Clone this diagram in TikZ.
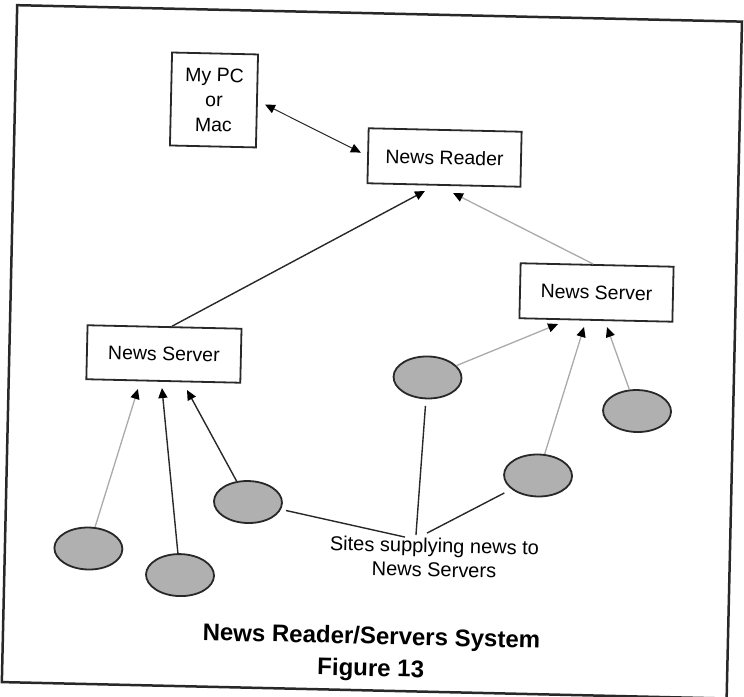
\documentclass[tikz,border=0pt]{standalone}
\usepackage{fontspec}
\setmainfont{Liberation Sans}
\usetikzlibrary{arrows.meta,shapes.geometric}
\definecolor{ink}{RGB}{40,40,40}
\definecolor{lightline}{RGB}{170,170,170}
\definecolor{ellfill}{RGB}{176,176,176}
\tikzset{
  box/.style={draw=ink,line width=1.8pt,rectangle,inner sep=0pt,align=center,
    font=\fontsize{19.5}{25}\selectfont},
  site/.style={draw=ink,line width=1.8pt,ellipse,fill=ellfill,minimum width=68pt,
    minimum height=42pt,inner sep=0pt},
  tip/.style={-{Triangle[length=10pt,width=9pt,color=black]}},
  darkline/.style={draw=ink,line width=1.4pt},
  grayline/.style={draw=lightline,line width=1.3pt},
  caption/.style={align=center,font=\fontsize{20}{24}\selectfont,inner sep=0pt},
  titletext/.style={align=center,font=\bfseries\fontsize{24}{32}\selectfont,inner sep=0pt}
}
\begin{document}
\begin{tikzpicture}[x=1pt,y=-1pt]
\useasboundingbox (0,0) rectangle (744,696);
\begin{scope}[rotate around={-1.3:(372,348)},transform shape]
  % frame
  \draw[ink,line width=2.5pt] (9.5,13.3) rectangle (734.5,690.4);
  % boxes
  \node[box,minimum width=86pt,minimum height=93pt] (pc) at (208.4,103.6) {My PC\\or\\Mac};
  \node[box,minimum width=153pt,minimum height=55pt] (nr) at (440.2,155.9) {News Reader};
  \node[box,minimum width=154pt,minimum height=54pt] (ls) at (164.1,358.7) {News Server};
  \node[box,minimum width=153pt,minimum height=55pt] (rs) at (595.2,287.4) {News Server};
  % sites
  \node[site] (e1) at (93,554.9) {};
  \node[site] (e2) at (185.2,579.4) {};
  \node[site] (e3) at (251.5,504.8) {};
  \node[site] (e4) at (428.2,376.2) {};
  \node[site] (e5) at (540.9,471.7) {};
  \node[site] (e6) at (638.4,405) {};
  % caption
  \node[caption] (sites) at (439,556) {Sites supplying news to\\News Servers};
  \node[titletext] (title) at (378,654) {News Reader/Servers System\\Figure 13};
  % arrow targets
  \coordinate (tnr1) at (421.4,189.8);
  \coordinate (tnr2) at (449.5,191.2);
  \coordinate (tls1) at (138.9,394.3);
  \coordinate (tls2) at (162.9,392.8);
  \coordinate (tls3) at (188,394.2);
  \coordinate (trs1) at (557.5,319.8);
  \coordinate (trs2) at (583.5,322.2);
  \coordinate (trs3) at (606.5,321.7);
  \coordinate (s1) at (409.3,536.3);
  \coordinate (s2) at (420.2,534);
  \coordinate (s3) at (431.2,531.8);
  % PC <-> reader
  \draw[ink,line width=1pt,{Triangle[length=10pt,width=9pt,color=black]}-{Triangle[length=10pt,width=9pt,color=black]},shorten <=8pt,shorten >=7pt] (pc.east) -- (nr.west);
  % servers to reader
  \draw[darkline,tip] ([xshift=7.4pt]ls.north) -- (tnr1);
  \draw[grayline,tip] ([xshift=-4pt]rs.north) -- (tnr2);
  % sites to left server
  \draw[grayline,tip] (e1) -- (tls1);
  \draw[darkline,tip] (e2) -- (tls2);
  \draw[darkline,tip] (e3) -- (tls3);
  % sites to right server
  \draw[grayline,tip] (e4) -- (trs1);
  \draw[grayline,tip] (e5) -- (trs2);
  \draw[grayline,tip] (e6) -- (trs3);
  % caption pointers
  \draw[darkline,shorten <=5pt] (e3) -- (s1);
  \draw[darkline,shorten <=6.5pt] (e4) -- (s2);
  \draw[darkline,shorten <=8pt] (e5) -- (s3);
\end{scope}
\end{tikzpicture}
\end{document}
